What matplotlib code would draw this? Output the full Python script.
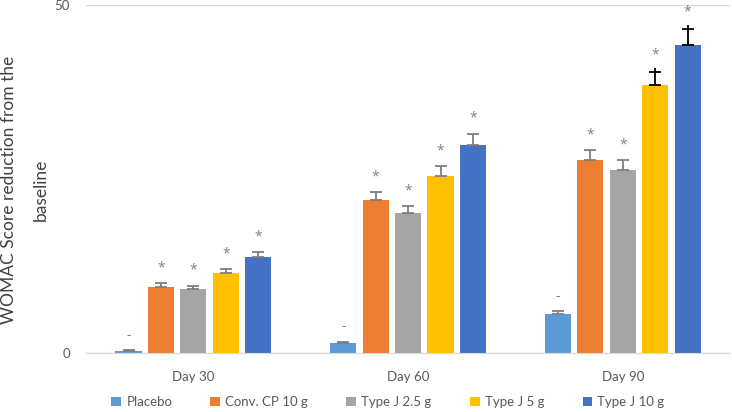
import numpy as np
import matplotlib.pyplot as plt
from matplotlib.patches import Patch

days = ['Day 30', 'Day 60', 'Day 90']
groups = ['Placebo', 'Conv. CP 10 g', 'Type J 2.5 g', 'Type J 5 g', 'Type J 10 g']
placebo = [0.3, 1.4, 5.6]
conv_cp = [9.5, 22.0, 27.7]
type_j_25 = [9.2, 20.1, 26.3]
type_j_5 = [11.5, 25.4, 38.5]
type_j_10 = [13.8, 29.9, 44.3]
err_placebo = [0.1, 0.2, 0.4]
err_conv = [0.5, 1.1, 1.4]
err_j25 = [0.5, 1.0, 1.4]
err_j5 = [0.6, 1.4, 1.9]
err_j10 = [0.7, 1.6, 2.3]
marks = ['-', '*', '*', '*', '*']

values = [placebo, conv_cp, type_j_25, type_j_5, type_j_10]
errors = [err_placebo, err_conv, err_j25, err_j5, err_j10]
colors = ['#5B9BD5', '#ED7D31', '#A5A5A5', '#FFC000', '#4472C4']
text_col = '#595959'

plt.rcParams['font.family'] = ['Lato', 'DejaVu Sans']

fig = plt.figure(figsize=(7.32, 4.12), dpi=100)
ax = fig.add_axes([0.1175, 0.143, 0.88, 0.845])

x = np.arange(len(days))
pitch = 0.151
width = 0.122
for i, (vals, errs, col) in enumerate(zip(values, errors, colors)):
    pos = x + (i - 2) * pitch
    ax.bar(pos, vals, width, color=col, zorder=2)
    for j, (p, v, e) in enumerate(zip(pos, vals, errs)):
        dark = (j == 2 and i >= 3)
        ecol = 'black' if dark else '#7f7f7f'
        ax.errorbar(p, v, yerr=[[0], [e]], fmt='none', ecolor=ecol,
                    elinewidth=1.3, capsize=4, capthick=1.3, zorder=3)
        top = v + e
        if dark:
            # the line runs a little past the cap on these two
            ax.vlines(p, top, top + 0.55, color=ecol, linewidth=1.3, zorder=3)
            top += 0.2
        ax.annotate(marks[i], (p, top), xytext=(0, 11), textcoords='offset points',
                    ha='center', va='center', color='#7f7f7f', fontsize=10,
                    family='Open Sans')

ax.set_xlim(-0.5, 2.5)
ax.set_ylim(0, 50)
ax.set_yticks([0, 50])
ax.set_xticks(x)
ax.set_xticklabels(days)
ax.tick_params(axis='both', length=0, colors=text_col, labelsize=9.5)
ax.tick_params(axis='y', pad=11.5)
ax.tick_params(axis='x', pad=13)
ax.grid(axis='y', color='#d9d9d9', linewidth=1, zorder=0)
for s in ['top', 'right', 'left']:
    ax.spines[s].set_visible(False)
ax.spines['bottom'].set_color('#d9d9d9')
ax.set_ylabel('WOMAC Score reduction from the\nbaseline', fontsize=12.5, color='#404040',
              linespacing=2.2, va='center')
ax.yaxis.set_label_coords(-0.095, 0.47)

handles = [Patch(facecolor=c, edgecolor='none') for c in colors]
fig.legend(handles, groups, loc='center', bbox_to_anchor=(0.53, 0.024), ncol=5,
           frameon=False, fontsize=9.5, labelcolor=text_col, handlelength=0.75,
           handleheight=0.75, handletextpad=0.38, columnspacing=2.9,
           borderpad=0, borderaxespad=0)

fig.savefig('out.png', dpi=100)
